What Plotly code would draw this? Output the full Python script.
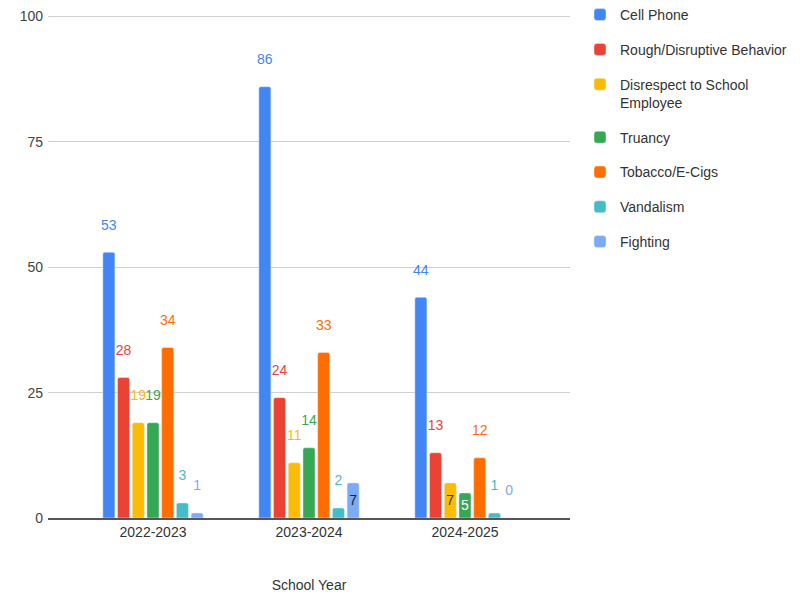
import plotly.graph_objects as go

years = ["2022-2023", "2023-2024", "2024-2025"]
series_names = ["Cell Phone", "Rough/Disruptive Behavior", "Disrespect to School<br>Employee",
                "Truancy", "Tobacco/E-Cigs", "Vandalism", "Fighting"]
cell_phone = [53, 86, 44]
rough = [28, 24, 13]
disrespect = [19, 11, 7]
truancy = [19, 14, 5]
tobacco = [34, 33, 12]
vandalism = [3, 2, 1]
fighting = [1, 7, 0]
# which labels sit inside their bar (as in the reference)
inside_flags = [
    [False, False, False],
    [False, False, False],
    [False, False, True],
    [False, False, True],
    [False, False, False],
    [False, False, False],
    [False, True, False],
]
inside_text_colors = ["#222", "#222", "#333", "#ffffff", "#222", "#222", "#222"]
colors = ["#4285F4", "#EA4335", "#FBBC04", "#34A853", "#FF6D01", "#46BDC6", "#7BAAF7"]
values = [cell_phone, rough, disrespect, truancy, tobacco, vandalism, fighting]

FONT = "Liberation Sans, Arial, sans-serif"
fig = go.Figure()

for i, (name, vals, col) in enumerate(zip(series_names, values, colors)):
    inside_txt = [str(v) if f else "" for v, f in zip(vals, inside_flags[i])]
    fig.add_trace(go.Bar(
        x=years, y=vals, name=name, marker=dict(color=col, cornerradius=2),
        offsetgroup=str(i), legendgroup=str(i),
        text=inside_txt, textposition="inside", insidetextanchor="middle",
        constraintext="none", textangle=0,
        textfont=dict(family=FONT, size=14, color=inside_text_colors[i]),
        hoverinfo="x+y+name",
    ))

for i, (name, vals, col) in enumerate(zip(series_names, values, colors)):
    out_txt = ["" if f else str(v) for v, f in zip(vals, inside_flags[i])]
    fig.add_trace(go.Scatter(
        x=years, y=vals, mode="markers+text", text=out_txt, textposition="top center",
        marker=dict(size=29, color="rgba(0,0,0,0)"), showlegend=False,
        offsetgroup=str(i), legendgroup=str(i), cliponaxis=False,
        textfont=dict(family=FONT, size=14, color=col), hoverinfo="skip",
    ))

fig.update_layout(
    width=802, height=594,
    margin=dict(l=40, r=240, t=7, b=84, autoexpand=False),
    paper_bgcolor="white", plot_bgcolor="white",
    barmode="group", bargap=0.34, bargroupgap=0.18,
    scattermode="group", scattergap=0.34,
    font=dict(family=FONT, size=14, color="#444"),
    legend=dict(
        x=572 / 802, xref="container", y=1 + 16 / 503, yref="paper",
        xanchor="left", yanchor="top",
        font=dict(family=FONT, size=14, color="#333"),
        traceorder="grouped", tracegroupgap=13.6, valign="top",
        itemclick=False,
    ),
    xaxis=dict(
        type="category", range=[-0.673, 2.673], automargin=False,
        title=dict(text="School Year", standoff=41, font=dict(size=14, color="#333")),
        showgrid=False, showline=True, linecolor="#555", linewidth=2,
        tickfont=dict(size=14, color="#333"), ticks="",
    ),
    yaxis=dict(
        range=[0, 100.3], tickvals=[0, 25, 50, 75, 100], automargin=False,
        showgrid=True, gridcolor="#d0d0d0", gridwidth=1,
        zeroline=False, showline=False, ticks="", ticklabeloverflow="allow",
        tickfont=dict(size=14, color="#444"), ticklabelstandoff=4,
    ),
)

fig.write_html("out.html")
